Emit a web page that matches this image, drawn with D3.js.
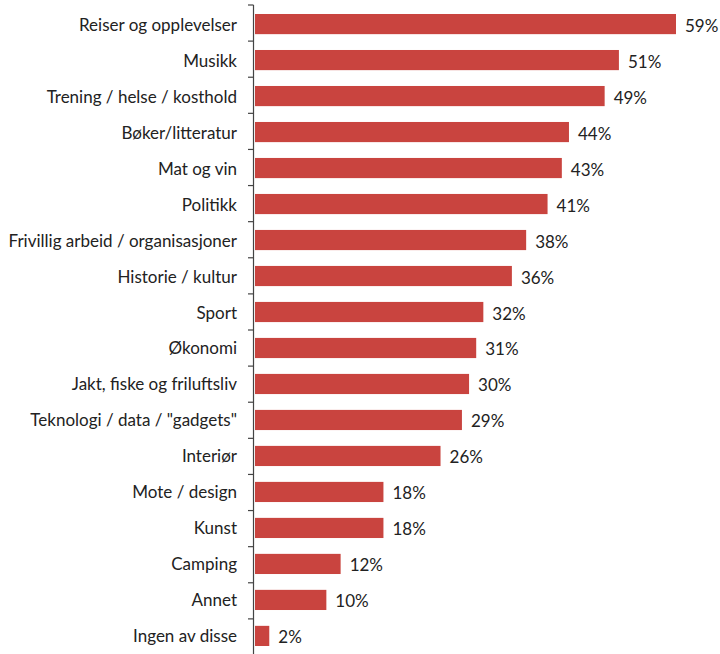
<!DOCTYPE html>
<html><head><meta charset="utf-8">
<script src="https://cdn.jsdelivr.net/npm/d3@7"></script>
<style>html,body{margin:0;padding:0;background:#fff;overflow:hidden}</style>
</head><body>
<svg id="c" width="720" height="654"></svg>
<script>
const categories = ["Reiser og opplevelser","Musikk","Trening / helse / kosthold","Bøker/litteratur","Mat og vin","Politikk","Frivillig arbeid / organisasjoner","Historie / kultur","Sport","Økonomi","Jakt, fiske og friluftsliv","Teknologi / data / \"gadgets\"","Interiør","Mote / design","Kunst","Camping","Annet","Ingen av disse"];
const values = [59,51,49,44,43,41,38,36,32,31,30,29,26,18,18,12,10,2];

(function(){
const svg = d3.select("#c");
const x0 = 255, yTop = 5, yBottom = 655;
const x = d3.scaleLinear().domain([0,59]).range([x0, 676]);
const y = d3.scaleBand().domain(categories).range([yTop, yBottom]).paddingInner(0.44).paddingOuter(0.25);

svg.selectAll("rect.bar").data(values).join("rect")
  .attr("x", x(0)).attr("y", (d,i)=>y(categories[i]))
  .attr("width", d=>x(d)-x(0)).attr("height", y.bandwidth())
  .attr("fill", "#c9443f");

const step = (yBottom-yTop)/categories.length;
svg.append("line").attr("x1", x0-1.5).attr("x2", x0-1.5).attr("y1", yTop).attr("y2", yBottom)
  .attr("stroke","#444").attr("stroke-width",1.2);
d3.range(categories.length+1).forEach(i=>{
  svg.append("line").attr("x1", x0-7).attr("x2", x0-1.5)
    .attr("y1", yTop+i*step).attr("y2", yTop+i*step).attr("stroke","#444").attr("stroke-width",1.2);
});

svg.selectAll("text.cat").data(categories).join("text")
  .attr("x", 237).attr("y", d=>y(d)+y.bandwidth()/2)
  .attr("text-anchor","end").attr("dominant-baseline","central")
  .attr("font-family","Lato, 'Open Sans', sans-serif").attr("font-size",17).attr("fill","#222")
  .text(d=>d);

svg.selectAll("text.val").data(values).join("text")
  .attr("x", d=>x(d)+9).attr("y", (d,i)=>y(categories[i])+y.bandwidth()/2+1)
  .attr("dominant-baseline","central")
  .attr("font-family","Lato, 'Open Sans', sans-serif").attr("font-size",17).attr("fill","#222")
  .text(d=>d+"%");
})();
</script>
</body></html>
